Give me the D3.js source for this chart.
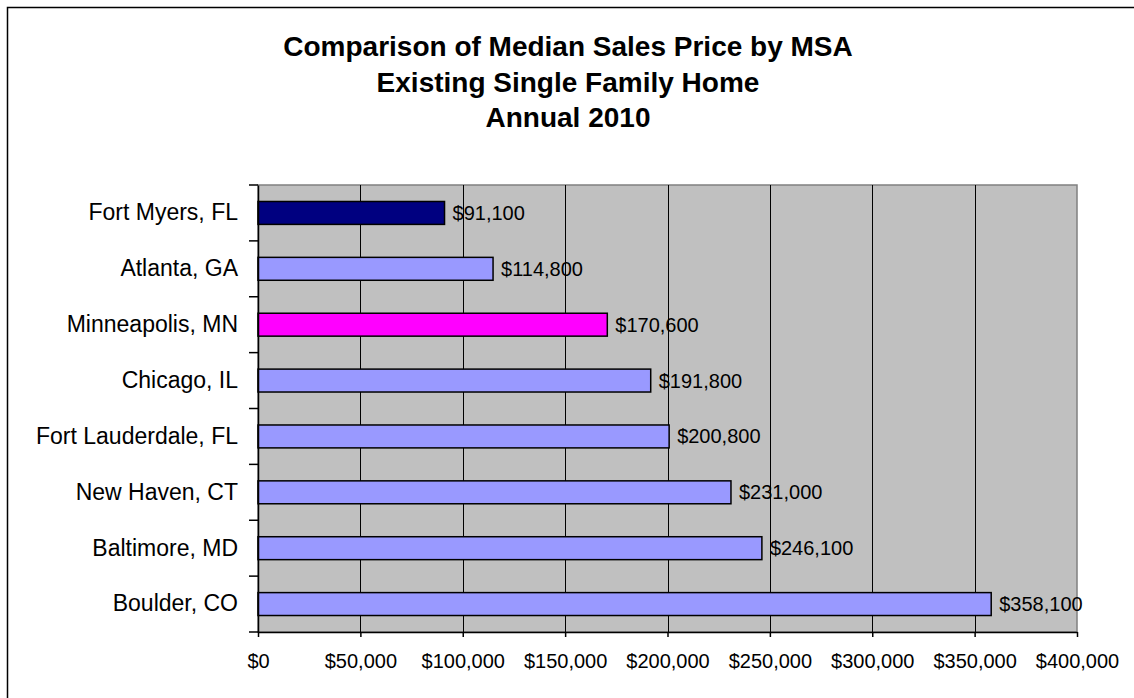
<!DOCTYPE html>
<html>
<head>
    <meta charset="utf-8">
    <title>Median Sales Price by MSA</title>
    <script src="https://cdn.jsdelivr.net/npm/d3@7"></script>
    <style>
        body { margin: 0; background: #fff; }
        svg { display: block; font-family: Arial, "Liberation Sans", sans-serif; }
    </style>
</head>
<body>
<script>
    // data
    var cities = ["Fort Myers, FL", "Atlanta, GA", "Minneapolis, MN", "Chicago, IL",
                  "Fort Lauderdale, FL", "New Haven, CT", "Baltimore, MD", "Boulder, CO"];
    var prices = [91100, 114800, 170600, 191800, 200800, 231000, 246100, 358100];
    var barColors = ["#000080", "#9999FF", "#FF00FF", "#9999FF",
                     "#9999FF", "#9999FF", "#9999FF", "#9999FF"];
    var xTicks = [0, 50000, 100000, 150000, 200000, 250000, 300000, 350000, 400000];
    var titleLines = ["Comparison of Median Sales Price by MSA",
                      "Existing Single Family Home",
                      "Annual 2010"];

    var width = 1134, height = 698;
    var margins = {top: 185, left: 258, right: 57, bottom: 66};

    var svg = d3.select("body").append("svg")
        .attr("width", width)
        .attr("height", height);

    // outer chart border (right/bottom fall outside the picture)
    svg.append("rect")
        .attr("x", 7.5).attr("y", 7.5)
        .attr("width", 1300).attr("height", 900)
        .attr("fill", "none")
        .attr("stroke", "#000")
        .attr("stroke-width", 1.5);

    // title
    svg.append("text")
        .attr("text-anchor", "middle")
        .attr("font-weight", "bold")
        .attr("font-size", 28)
        .selectAll("tspan")
        .data(titleLines)
        .enter().append("tspan")
            .attr("x", 568)
            .attr("y", function (d, i) { return 56 + i * 35.5; })
            .text(function (d) { return d; });

    var x = d3.scaleLinear()
        .domain([0, 400000])
        .range([margins.left, width - margins.right]);

    var y = d3.scaleBand()
        .domain(cities)
        .range([margins.top, height - margins.bottom])
        .paddingInner(0.59)
        .paddingOuter(0.295);

    // plot area
    svg.append("rect")
        .attr("x", x(0)).attr("y", margins.top)
        .attr("width", x(400000) - x(0))
        .attr("height", height - margins.bottom - margins.top)
        .attr("fill", "#C0C0C0")
        .attr("stroke", "#808080")
        .attr("stroke-width", 1.5);

    // vertical gridlines
    svg.append("g")
        .selectAll("line")
        .data(xTicks.slice(1, -1))
        .enter().append("line")
            .attr("x1", function (d) { return Math.round(x(d)) + 0.5; })
            .attr("x2", function (d) { return Math.round(x(d)) + 0.5; })
            .attr("y1", margins.top)
            .attr("y2", height - margins.bottom)
            .attr("stroke", "#000")
            .attr("stroke-width", 1);

    // bars
    svg.append("g")
        .selectAll("rect")
        .data(prices)
        .enter().append("rect")
            .attr("x", x(0))
            .attr("y", function (d, i) { return y(cities[i]); })
            .attr("width", function (d) { return x(d) - x(0); })
            .attr("height", y.bandwidth())
            .attr("fill", function (d, i) { return barColors[i]; })
            .attr("stroke", "#000")
            .attr("stroke-width", 1.5);

    // value labels
    svg.append("g")
        .attr("font-size", 20)
        .selectAll("text")
        .data(prices)
        .enter().append("text")
            .attr("x", function (d) { return x(d) + 8; })
            .attr("y", function (d, i) { return y(cities[i]) + y.bandwidth() / 2; })
            .attr("dy", "0.35em")
            .text(function (d) { return d3.format("$,")(d); });

    // x axis
    var xAxis = d3.axisBottom(x)
        .tickValues(xTicks)
        .tickFormat(d3.format("$,"))
        .tickSizeInner(5)
        .tickSizeOuter(0)
        .tickPadding(17);

    var xg = svg.append("g")
        .attr("transform", "translate(0," + (height - margins.bottom) + ")")
        .call(xAxis);
    xg.selectAll("text").attr("font-size", 20).attr("fill", "#000")
        .attr("font-family", "Arial, 'Liberation Sans', sans-serif");
    xg.selectAll("line, path").attr("stroke", "#000").attr("stroke-width", 1.5);

    // y axis: labels centred on bands, ticks on band boundaries
    var yAxis = d3.axisLeft(y)
        .tickSize(0)
        .tickPadding(20);

    var yg = svg.append("g")
        .attr("transform", "translate(" + x(0) + ",0)")
        .call(yAxis);
    yg.select(".domain").attr("stroke", "#000").attr("stroke-width", 1.5);
    yg.selectAll("text").attr("font-size", 23).attr("fill", "#000")
        .attr("font-family", "Arial, 'Liberation Sans', sans-serif");

    var step = y.step();
    var boundaries = d3.range(cities.length + 1).map(function (i) {
        return margins.top + i * step;
    });
    yg.append("g")
        .selectAll("line")
        .data(boundaries)
        .enter().append("line")
            .attr("x1", -9).attr("x2", 0)
            .attr("y1", function (d) { return d; })
            .attr("y2", function (d) { return d; })
            .attr("stroke", "#000")
            .attr("stroke-width", 1.5);
</script>
</body>
</html>
